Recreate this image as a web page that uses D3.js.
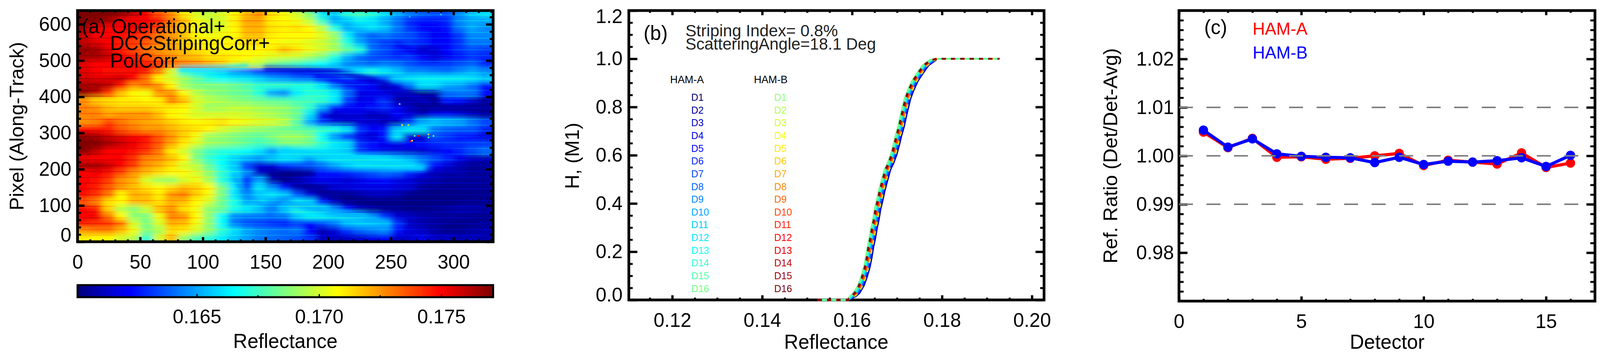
<!DOCTYPE html>
<html>
<head>
<meta charset="utf-8">
<script src="https://cdn.jsdelivr.net/npm/d3@7"></script>
<style>
html, body { margin: 0; padding: 0; width: 100%; height: 100%; background: #fff; overflow: hidden; }
#chart { width: 100vw; height: 100vh; }
svg { display: block; width: 100%; height: 100%; }
text { font-family: "Liberation Sans", Arial, sans-serif; fill: #000; }
</style>
</head>
<body>
<div id="chart"></div>
<script>

// Panel (a): reflectance, in units of 0.0001 above 0.16
// one row per 20 pixels along-track (top row = 630), one column per 10 pixels
var heatRowY = [630,610,590,570,550,530,510,490,470,450,430,410,390,370,350,330,310,290,270,250,230,210,190,170,150,130,110,90,70,50,30,10];
var heatRows = [
[171,171,171,168,160,150,135,125,110,100,95,100,108,118,125,112,105,98,85,60,55,70,75,70,60,50,42,38,35,35,45,55,60],
[171,170,165,155,150,150,145,130,118,105,100,100,110,122,122,110,108,105,95,72,50,55,62,60,50,40,28,24,25,28,45,50,50],
[165,155,150,150,150,148,138,125,115,105,100,102,108,120,120,112,110,112,108,95,68,50,55,60,55,42,30,22,22,25,42,50,45],
[160,150,150,148,145,140,130,125,118,108,105,105,108,118,118,110,108,108,108,102,90,62,45,38,42,38,35,28,20,22,32,45,45],
[160,155,150,145,140,135,128,122,115,110,108,108,108,112,112,108,105,105,102,98,90,70,50,38,32,30,32,28,22,22,30,42,42],
[168,165,155,145,138,130,125,122,118,112,110,108,108,108,108,110,118,112,105,100,92,80,70,40,35,28,22,12,15,22,30,35,32],
[165,165,160,150,145,138,130,125,120,118,112,112,110,108,105,102,100,98,92,85,70,52,40,35,32,28,30,22,15,20,25,30,28],
[155,150,150,150,148,145,142,132,128,125,120,115,105,100,95,85,80,75,70,65,58,45,42,38,42,40,35,30,30,32,35,38,28],
[155,150,148,148,148,145,128,100,72,62,60,55,45,40,30,28,25,22,25,32,40,55,62,68,62,55,45,45,42,40,45,50,45],
[158,155,155,158,150,130,108,100,90,80,70,65,62,60,55,48,45,40,38,35,30,35,20,18,35,55,60,62,62,62,62,60,55],
[165,165,160,145,125,130,125,108,90,85,85,85,82,78,72,72,72,70,70,60,42,30,28,22,8,18,40,58,58,50,48,40,25],
[168,160,140,118,108,105,125,125,108,95,88,85,82,80,70,50,45,62,70,70,62,40,18,18,15,12,5,5,8,40,42,42,25],
[125,115,112,110,110,108,110,128,118,100,95,92,88,85,82,80,78,75,75,72,62,32,18,20,30,8,8,5,4,25,22,12,5],
[128,125,118,115,115,115,112,110,108,100,90,92,95,95,92,90,88,82,72,50,25,22,22,25,28,20,10,4,5,4,4,5,5],
[128,128,122,125,125,125,118,108,105,100,100,100,100,98,95,92,88,82,60,20,12,15,15,10,12,22,15,10,18,20,15,10,5],
[125,128,138,130,125,122,120,115,110,108,110,112,108,105,102,100,95,80,50,30,16,12,14,14,10,10,30,50,55,52,50,42,35],
[150,148,145,135,130,125,125,120,115,112,108,100,95,90,88,85,82,80,78,72,68,60,30,22,25,55,62,60,42,38,36,36,28],
[168,165,158,155,150,148,135,125,115,105,90,88,85,82,80,85,90,90,85,65,45,25,18,15,25,60,15,10,35,30,25,22,15],
[171,171,165,158,152,145,135,122,110,100,90,88,85,80,75,78,85,85,82,72,62,58,30,25,20,18,22,25,28,30,30,32,32],
[170,160,150,150,148,142,130,110,100,85,75,70,68,65,60,48,58,62,62,62,58,55,30,22,18,16,14,14,18,22,28,35,40],
[152,150,150,150,142,128,125,118,108,85,72,65,58,52,48,55,60,58,45,55,62,62,62,62,60,55,50,42,35,28,18,12,10],
[165,165,158,150,140,125,120,112,100,95,80,65,55,30,15,15,28,32,35,40,48,55,60,60,60,62,58,42,22,15,8,4,5],
[150,152,148,138,125,118,112,108,108,100,88,72,60,45,12,5,2,2,5,25,25,28,32,36,40,38,28,18,10,8,8,5,5],
[150,148,140,125,120,100,92,90,100,105,92,70,58,30,48,8,2,8,15,20,18,15,18,22,22,18,15,10,8,5,5,5,5],
[150,145,135,125,118,112,108,112,118,115,108,85,62,35,60,45,25,8,4,6,14,16,18,18,18,16,14,5,4,3,4,4,4],
[148,142,130,108,120,118,110,125,128,115,105,85,60,45,55,60,55,35,15,5,3,3,6,10,10,8,2,1,1,2,2,2,3],
[135,128,112,108,118,118,112,120,118,108,100,82,68,50,58,48,40,60,55,25,10,2,0,0,0,0,0,0,0,1,2,3,3],
[150,145,115,95,88,98,118,125,112,105,88,82,68,62,55,42,55,68,62,58,40,22,10,6,4,4,2,2,4,6,8,8,6],
[150,152,130,108,88,85,105,128,125,108,88,65,45,42,42,40,42,55,62,62,60,60,58,45,30,15,12,8,6,5,5,4,3],
[145,142,140,130,100,85,100,120,118,105,88,65,42,35,32,28,25,30,22,32,40,52,55,55,50,30,12,8,6,4,3,4,5],
[125,128,128,118,105,85,92,112,110,100,88,72,60,50,45,42,40,42,22,10,15,30,38,42,45,25,15,12,6,3,3,6,8],
[110,108,108,100,95,72,100,118,90,78,72,62,55,48,42,40,38,35,30,12,12,12,14,18,22,12,14,18,12,12,10,10,8]
];
// narrow swirls that the 10 x 20 grid is too coarse for: value, width in picture pixels, path
var filamentValues = [14, 20, 58, 52, 46, 60, 18];
var filamentWidths = [11, 9, 18, 16, 8, 10, 9];
var filamentPaths = [
	[[150,477],[175,474],[205,468],[225,455],[245,435],[262,410],[280,385]],
	[[190,455],[215,440],[238,415],[250,395]],
	[[164,251],[192,240],[220,230],[248,216],[275,205]],
	[[164,108],[192,90],[220,72],[247,50]],
	[[125,182],[130,150],[137,122],[145,108],[160,75]],
	[[82,476],[110,478],[135,484]],
	[[255,545],[268,525],[285,505]]
];
// bright scan lines, repeat every 16 pixels along-track
var stripeRowY = [2,18,34,50,66,82,98,114,130,146,162,178,194,210,226,242,258,274,290,306,322,338,354,370,386,402,418,434,450,466,482,498,514,530,546,562,578,594,610,626];
var stripeLift = 12;
// isolated bad pixels: x, y, value
var speckles = [[257,380,85],[266,277,150],[267,279,108],[272,292,150],[269,292,80],[280,296,95],[280,288,75],[284,292,90],[265,621,55],[290,627,60],[259,322,100],[264,322,95]];

var jetStops = [0, 0.125, 0.375, 0.625, 0.875, 1];
var jetColors = ["#00007f", "#0000ff", "#00ffff", "#ffff00", "#ff0000", "#7f0000"];
var colorbarTicks = [0.165, 0.170, 0.175];
var colorbarMinor = [0.1675, 0.1725];

// Panel (b): cumulative histogram, all detectors follow this curve with a small shift
var curveRef = [0.1524,0.15903,0.16017,0.16103,0.16204,0.16276,0.16334,0.16377,0.16411,0.16454,0.16491,0.16534,0.16569,0.16621,0.16664,0.16721,0.16793,0.16856,0.16931,0.16989,0.17037,0.17095,0.17138,0.17190,0.17239,0.17310,0.17402,0.17517,0.1764,0.1780,0.17885,0.1928];
var curveH = [0,0,0.0148,0.0283,0.0607,0.0985,0.1363,0.1768,0.2173,0.2551,0.2955,0.3333,0.3738,0.4143,0.4521,0.4926,0.5411,0.5654,0.6032,0.6437,0.6815,0.7193,0.757,0.7976,0.8354,0.8704,0.908,0.9406,0.973,0.9946,1,1];
var detectors = ["D1","D2","D3","D4","D5","D6","D7","D8","D9","D10","D11","D12","D13","D14","D15","D16"];
var shiftA = [0.0006,0.00055,0.0005,0.00045,0.0004,0.0003,0.0002,0.0001,0,-0.0001,-0.0002,-0.0003,-0.0004,-0.0005,-0.0006,-0.0007];
var shiftB = [0.0003,0.0003,0.00025,0.0002,0.0002,0.0001,0.0001,0,-0.0001,-0.0002,-0.0003,-0.0004,-0.0004,-0.0005,-0.0005,-0.0005];

// Panel (c)
var detectorNo = [1,2,3,4,5,6,7,8,9,10,11,12,13,14,15,16];
var ratioA = [1.0049,1.0017,1.0036,0.9997,0.9998,0.9993,0.9995,1.0000,1.0005,0.9980,0.9991,0.9987,0.9983,1.0006,0.9976,0.9985];
var ratioB = [1.0053,1.0018,1.0035,1.0004,0.9999,0.9997,0.9996,0.9986,0.9997,0.9982,0.9989,0.9987,0.9990,0.9996,0.9978,1.0001];
var refLines = [1.01, 1.00, 0.99];

var w = 4127;
var h = 909;
var fontSize = 50;

// the drawing is laid out in 4127 x 909 units and always fills the window
var svg = d3.select("#chart").append("svg")
	.attr("viewBox", "0 0 " + w + " " + h)
	.attr("preserveAspectRatio", "none");
var defs = svg.append("defs");

var jet = d3.scaleLinear().domain(jetStops).range(jetColors).clamp(true);
var heatColor = d3.scaleLinear().domain([0.16012, 0.17712]).range([0, 1]).clamp(true);

function refl(v) {
	return 0.16 + v / 10000;
}

// Frame with IDL style ticks on all four sides
function drawFrame(x, y, o) {
	var g = svg.append("g");
	var r = x.range(), t = y.range();
	var sides = [
		[d3.axisBottom(x), "translate(0," + t[0] + ")", o.xMajor, o.xMinor, o.xBig, o.xSmall, true],
		[d3.axisTop(x), "translate(0," + t[1] + ")", o.xMajor, o.xMinor, o.xBig, o.xSmall, false],
		[d3.axisLeft(y), "translate(" + r[0] + ",0)", o.yMajor, o.yMinor, o.yBig, o.ySmall, true],
		[d3.axisRight(y), "translate(" + r[1] + ",0)", o.yMajor, o.yMinor, o.yBig, o.ySmall, false]
	];
	sides.forEach(function(s, i) {
		var isX = i < 2;
		var small = g.append("g").attr("transform", s[1])
			.call(s[0].tickValues(s[3]).tickSize(-s[5]).tickFormat(""));
		small.selectAll("line").attr("stroke", "#000").attr("stroke-width", 5);
		small.selectAll("text").remove();
		small.select(".domain").remove();
		var axis = s[0].tickValues(s[2]).tickSize(-s[4])
			.tickPadding(isX ? 33.5 : o.yPad)
			.tickFormat(s[6] ? (isX ? o.xFmt : o.yFmt) : "");
		var big = g.append("g").attr("transform", s[1]).call(axis);
		big.selectAll("line").attr("stroke", "#000").attr("stroke-width", 6);
		big.select(".domain").remove();
		if (!s[6]) big.selectAll("text").remove();
		big.selectAll("text")
			.attr("font-size", fontSize)
			.style("font-family", "'Liberation Sans', Arial, sans-serif");
		if (s[6] && !isX && o.yNudge) {
			big.selectAll("text").attr("transform", function(d) {
				return "translate(0," + (o.yNudge[d] || 0) + ")";
			});
		}
	});
	g.append("rect")
		.attr("x", r[0]).attr("y", t[1])
		.attr("width", r[1] - r[0]).attr("height", t[0] - t[1])
		.attr("fill", "none").attr("stroke", "#000").attr("stroke-width", 7);
}

function label(txt, x, y, size, color, anchor) {
	return svg.append("text")
		.attr("x", x).attr("y", y)
		.attr("font-size", size)
		.attr("text-anchor", anchor || "start")
		.style("fill", color || "#000")
		.text(txt);
}

function yTitle(txt, x, y) {
	svg.append("text")
		.attr("transform", "translate(" + x + "," + y + ") rotate(-90)")
		.attr("font-size", fontSize + 1)
		.attr("text-anchor", "middle")
		.text(txt);
}

// ---------- (a) image ----------
var xa = d3.scaleLinear().domain([0, 331.6]).range([200, 1272]);
var ya = d3.scaleLinear().domain([0, 638]).range([619, 27]);

defs.append("clipPath").attr("id", "heat-area").append("rect")
	.attr("x", 200).attr("y", 27).attr("width", 1072).attr("height", 592);
function addBlur(id, dev) {
	defs.append("filter").attr("id", id)
		.attr("filterUnits", "userSpaceOnUse")
		.attr("x", 100).attr("y", -60).attr("width", 1280).attr("height", 780)
		.append("feGaussianBlur").attr("stdDeviation", dev);
}
addBlur("heat-blur", "9 6");
addBlur("swirl-blur", "6");
addBlur("stripe-blur", "8 0.6");

var cells = [];
heatRows.forEach(function(row, i) {
	row.forEach(function(v, j) {
		cells.push({ col: j, row: i, v: v });
	});
});

var heatClip = svg.append("g").attr("clip-path", "url(#heat-area)");
heatClip.append("g")
	.attr("filter", "url(#heat-blur)")
	.selectAll("rect")
	.data(cells)
	.enter()
	.append("rect")
	// outer cells run past the frame so that the blur has no pale edge
	.attr("x", function(d) { return xa(d.col * 10) - (d.col == 0 ? 60 : 0.5); })
	.attr("width", function(d) {
		return xa(10) - xa(0) + 1 + (d.col == 0 ? 60 : 0) + (d.col == 32 ? 120 : 0);
	})
	.attr("y", function(d) { return ya(heatRowY[d.row] + 10) - (d.row == 0 ? 60 : 0.5); })
	.attr("height", function(d) {
		return ya(0) - ya(20) + 1 + (d.row == 0 ? 60 : 0) + (d.row == 31 ? 60 : 0);
	})
	.attr("fill", function(d) { return jet(heatColor(refl(d.v))); });

var swirlLine = d3.line()
	.curve(d3.curveCatmullRom)
	.x(function(d) { return xa(d[0]); })
	.y(function(d) { return ya(d[1]); });
heatClip.append("g")
	.attr("filter", "url(#swirl-blur)")
	.attr("fill", "none")
	.attr("stroke-linecap", "round")
	.selectAll("path")
	.data(filamentPaths)
	.enter()
	.append("path")
	.attr("d", function(d) { return swirlLine(d); })
	.attr("stroke-width", function(d, i) { return filamentWidths[i]; })
	.attr("stroke", function(d, i) { return jet(heatColor(refl(filamentValues[i]))); });

var stripeCells = [];
stripeRowY.forEach(function(py) {
	var rowIndex = Math.min(31, Math.max(0, Math.floor((640 - py) / 20)));
	heatRows[rowIndex].forEach(function(v, j) {
		stripeCells.push({ col: j, py: py, v: v + stripeLift });
	});
});
heatClip.append("g")
	.attr("filter", "url(#stripe-blur)")
	.attr("opacity", 0.55)
	.selectAll("rect")
	.data(stripeCells)
	.enter()
	.append("rect")
	.attr("x", function(d) { return xa(d.col * 10); })
	.attr("width", xa(10) - xa(0) + 1)
	.attr("y", function(d) { return ya(d.py) - 1; })
	.attr("height", 2.5)
	.attr("fill", function(d) { return jet(heatColor(refl(d.v))); });

heatClip.append("g")
	.selectAll("rect")
	.data(speckles)
	.enter()
	.append("rect")
	.attr("x", function(d) { return xa(d[0]) - 2; })
	.attr("y", function(d) { return ya(d[1]) - 2; })
	.attr("width", 4)
	.attr("height", 4)
	.attr("fill", function(d) { return jet(heatColor(refl(d[2]))); });

drawFrame(xa, ya, {
	xMajor: d3.range(0, 301, 50), xMinor: d3.range(0, 331, 10), xBig: 12, xSmall: 6,
	yMajor: d3.range(0, 601, 100), yMinor: d3.range(0, 631, 20), yBig: 18, ySmall: 9,
	yPad: 16, xFmt: d3.format("d"), yFmt: d3.format("d"), yNudge: { 0: -17 }
});

label("(a) Operational+", 211, 85, 51);
label("DCCStripingCorr+", 284, 128, 51);
label("PolCorr", 284, 173, 51);
yTitle("Pixel (Along-Track)", 60, 323);

// colorbar
var xc = d3.scaleLinear().domain([0.16012, 0.17712]).range([200, 1272]);
var barSteps = d3.range(0, 256);
svg.append("g").selectAll("rect")
	.data(barSteps)
	.enter()
	.append("rect")
	.attr("x", function(d) { return 200 + d * 1072 / 256; })
	.attr("y", 730)
	.attr("width", 1072 / 256 + 1)
	.attr("height", 31)
	.attr("fill", function(d) { return jet(d / 255); });
var barAxis = svg.append("g").attr("transform", "translate(0,761)")
	.call(d3.axisBottom(xc).tickValues(colorbarTicks).tickSize(-8).tickPadding(31.5).tickFormat(d3.format(".3f")));
barAxis.select(".domain").remove();
barAxis.selectAll("line").attr("stroke", "#000").attr("stroke-width", 3);
barAxis.selectAll("text").attr("font-size", fontSize)
	.style("font-family", "'Liberation Sans', Arial, sans-serif");
svg.append("g").selectAll("line")
	.data(colorbarMinor)
	.enter()
	.append("line")
	.attr("x1", function(d) { return xc(d); })
	.attr("x2", function(d) { return xc(d); })
	.attr("y1", 761).attr("y2", 756)
	.attr("stroke", "#000").attr("stroke-width", 3);
svg.append("rect")
	.attr("x", 200).attr("y", 730).attr("width", 1072).attr("height", 31)
	.attr("fill", "none").attr("stroke", "#000").attr("stroke-width", 5);
label("Reflectance", 736, 891, fontSize + 1, "#000", "middle");

// ---------- (b) histogram curves ----------
var xb = d3.scaleLinear().domain([0.11034, 0.2027]).range([1622, 2693]);
var yb = d3.scaleLinear().domain([0, 1.2]).range([768, 27]);

drawFrame(xb, yb, {
	xMajor: [0.12, 0.14, 0.16, 0.18, 0.20], xMinor: d3.range(0.115, 0.2001, 0.005), xBig: 12, xSmall: 6,
	yMajor: [0, 0.2, 0.4, 0.6, 0.8, 1.0, 1.2], yMinor: d3.range(0.05, 1.2, 0.05), yBig: 22, ySmall: 10,
	yPad: 16, xFmt: d3.format(".2f"), yFmt: d3.format(".1f"), yNudge: { 0: -13, 1.2: 15 }
});

function curveLine(shift) {
	return d3.line()
		.x(function(d, i) { return xb(d + (curveH[i] > 0 && curveH[i] < 1 ? shift : 0)); })
		.y(function(d, i) { return yb(curveH[i]); });
}

var curves = svg.append("g").attr("fill", "none").attr("stroke-width", 4.5);
detectors.forEach(function(d, i) {
	curves.append("path")
		.attr("d", curveLine(shiftA[i])(curveRef))
		.attr("stroke", jet(i / 31));
});
detectors.forEach(function(d, i) {
	curves.append("path")
		.attr("d", curveLine(shiftB[i])(curveRef))
		.attr("stroke", jet((i + 16) / 31))
		.attr("stroke-dasharray", "10 14");
});

label("(b)", 1660, 102, 51);
label("Striping Index= 0.8%", 1768, 93, 42.5, "#222");
label("ScatteringAngle=18.1 Deg", 1768, 127, 42, "#222");
label("HAM-A", 1772, 213, 27, "#000", "middle");
label("HAM-B", 1988, 213, 27, "#000", "middle");
svg.append("g").selectAll("text")
	.data(detectors)
	.enter()
	.append("text")
	.attr("x", 1783)
	.attr("y", function(d, i) { return 258 + i * 32.65; })
	.attr("font-size", 25)
	.style("fill", function(d, i) { return jet(i / 31); })
	.text(function(d) { return d; });
svg.append("g").selectAll("text")
	.data(detectors)
	.enter()
	.append("text")
	.attr("x", 1997)
	.attr("y", function(d, i) { return 258 + i * 32.65; })
	.attr("font-size", 25)
	.style("fill", function(d, i) { return jet((i + 16) / 31); })
	.text(function(d) { return d; });
yTitle("H, (M1)", 1493, 399);
label("Reflectance", 2157, 893, fontSize + 1, "#000", "middle");

// ---------- (c) detector ratio ----------
var xd = d3.scaleLinear().domain([0, 17]).range([3041, 4114]);
var yd = d3.scaleLinear().domain([0.97, 1.03]).range([771, 27]);

drawFrame(xd, yd, {
	xMajor: [0, 5, 10, 15], xMinor: d3.range(1, 17), xBig: 12, xSmall: 6,
	yMajor: [0.98, 0.99, 1.00, 1.01, 1.02], yMinor: d3.range(0.972, 1.03, 0.002), yBig: 22, ySmall: 12,
	yPad: 13, xFmt: d3.format("d"), yFmt: d3.format(".2f")
});

function drawSeries(values, color) {
	var line = d3.line()
		.x(function(d, i) { return xd(detectorNo[i]); })
		.y(function(d) { return yd(d); });
	svg.append("path")
		.attr("d", line(values))
		.attr("fill", "none")
		.attr("stroke", color)
		.attr("stroke-width", 8);
	svg.append("g").selectAll("circle")
		.data(values)
		.enter()
		.append("circle")
		.attr("cx", function(d, i) { return xd(detectorNo[i]); })
		.attr("cy", function(d) { return yd(d); })
		.attr("r", 12)
		.attr("fill", color);
}
drawSeries(ratioA, "#ff0000");
drawSeries(ratioB, "#0000ff");

svg.append("g").selectAll("line")
	.data(refLines)
	.enter()
	.append("line")
	.attr("x1", xd(0))
	.attr("x2", xd(16.4))
	.attr("y1", function(d) { return yd(d); })
	.attr("y2", function(d) { return yd(d); })
	.attr("stroke", "#808080")
	.attr("stroke-width", 4)
	.attr("stroke-dasharray", "36 35");

label("(c)", 3106, 87, 51);
label("HAM-A", 3231, 89, 44, "#ff0000");
label("HAM-B", 3231, 150, 44, "#0000ff");
yTitle("Ref. Ratio (Det/Det-Avg)", 2882, 399);
label("Detector", 3578, 893, fontSize + 1, "#000", "middle");

</script>
</body>
</html>
